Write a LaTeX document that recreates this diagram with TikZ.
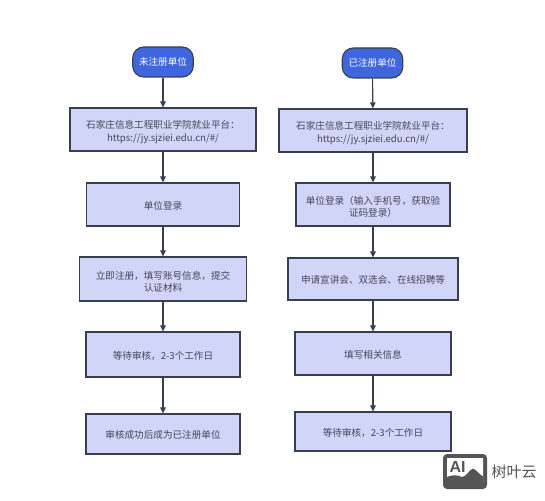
\documentclass[tikz,border=0pt]{standalone}
\usepackage{fontspec}
\setmainfont{Noto Sans CJK SC}
\newfontfamily\logofont{Liberation Sans}
\usetikzlibrary{arrows.meta}
\definecolor{boxfill}{HTML}{D1D5F8}
\definecolor{pillfill}{HTML}{3F66DC}
\definecolor{edge}{HTML}{3A3F50}
\definecolor{txt}{HTML}{44485A}
\definecolor{logo}{HTML}{555555}
\setlength{\lineskiplimit}{-100pt}
\newcommand{\lowerline}[1]{\raisebox{-1.2pt}[\height][\depth]{#1}}
\newcommand{\lowertwo}[1]{\raisebox{-2.6pt}[\height][\depth]{#1}}
\tikzset{
  x=1pt,y=-1pt,
  procbox/.style={draw=edge,line width=1.1pt,fill=boxfill,text=txt,font=\fontsize{9.6}{12.2}\selectfont,align=center,inner sep=0pt,anchor=center},
  pill/.style={draw=edge,line width=1.1pt,fill=pillfill,text=white,font=\fontsize{9.6}{12}\selectfont,rounded corners=11pt,align=center,inner sep=0pt,anchor=center,minimum width=60.5pt,minimum height=30pt},
  flow/.style={draw=edge,line width=1.1pt,-{Triangle[length=6pt,width=5.5pt]}}
}
\begin{document}
\begin{tikzpicture}
\useasboundingbox (0,0) rectangle (545,500);
\fill[white] (0,0) rectangle (545,500);
% left column
\node[pill] (l0) at (163,62) {未注册单位};
\node[procbox,minimum width=186pt,minimum height=43pt] (l1) at (163,129.5) {\lowertwo{石家庄信息工程职业学院就业平台：}\\\lowertwo{https://jy.sjziei.edu.cn/\#/}};
\node[procbox,minimum width=153pt,minimum height=43pt] (l2) at (163,204.5) {\lowerline{单位登录}};
\node[procbox,minimum width=167pt,minimum height=44pt] (l3) at (163,279) {\lowertwo{立即注册，填写账号信息，提交}\\\lowertwo{认证材料}};
\node[procbox,minimum width=154pt,minimum height=45pt] (l4) at (163,354.5) {\lowerline{等待审核，2-3个工作日}};
\node[procbox,minimum width=154pt,minimum height=40pt] (l5) at (163,434) {\lowerline{审核成功后成为已注册单位}};
% right column
\node[pill] (r0) at (372.5,63) {已注册单位};
\node[procbox,minimum width=188pt,minimum height=43pt] (r1) at (373,130.5) {\lowertwo{石家庄信息工程职业学院就业平台：}\\\lowertwo{https://jy.sjziei.edu.cn/\#/}};
\node[procbox,minimum width=154pt,minimum height=43pt] (r2) at (373,204.5) {\lowertwo{单位登录（输入手机号，获取验}\\\lowertwo{证码登录）}};
\node[procbox,minimum width=170pt,minimum height=42pt] (r3) at (373,279) {\lowerline{申请宣讲会、双选会、在线招聘等}};
\node[procbox,minimum width=156pt,minimum height=43pt] (r4) at (373,353.5) {\lowerline{填写相关信息}};
\node[procbox,minimum width=156pt,minimum height=39pt] (r5) at (373,431.5) {\lowerline{等待审核，2-3个工作日}};
\foreach \a/\b in {l0/l1,l1/l2,l2/l3,l3/l4,l4/l5,r0/r1,r1/r2,r2/r3,r3/r4,r4/r5}
  \draw[flow] (\a) -- (\b);
% logo
\fill[logo,rounded corners=4pt] (443,454) rectangle (487,489);
\fill[white,rounded corners=0.5pt] (447,458) rectangle (483,482);
\fill[logo] (447,477) .. controls (452,474.5) and (458,475) .. (462,477) .. controls (466,477) and (469,470) .. (473,468.5) .. controls (476,469.5) and (480,475) .. (483,476.5) -- (483,483) -- (447,483) -- cycle;
\node[text=logo,font=\logofont\bfseries\fontsize{16}{16}\selectfont,inner sep=0pt] (logoai) at (457.5,466.5) {AI};
\node[text=logo,font=\fontsize{15}{16}\selectfont,inner sep=0pt,anchor=west] (logotxt) at (491.5,472) {树叶云};
\end{tikzpicture}
\end{document}
